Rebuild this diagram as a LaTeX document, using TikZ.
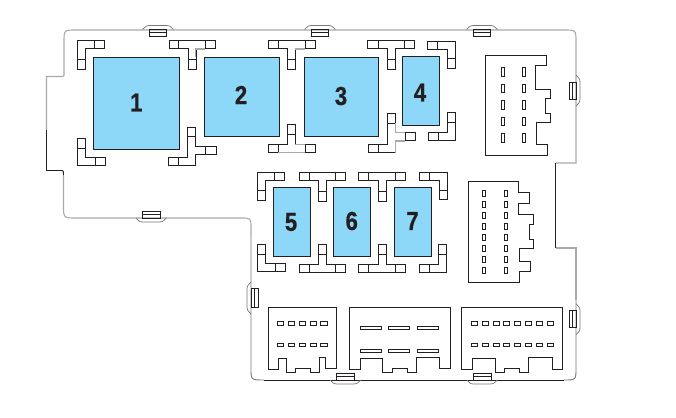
\documentclass[tikz,border=0pt]{standalone}
\usepackage{fontspec}
\setmainfont{Liberation Sans}
\newfontfamily\numfont[BoldFeatures={FakeBold=0.7}]{Liberation Sans}
\definecolor{ink}{HTML}{231F20}
\definecolor{soft}{HTML}{A9A9A9}
\definecolor{mid}{HTML}{777777}
\definecolor{fuse}{HTML}{8DD7F8}
\tikzset{
  wire/.style={draw=ink,line width=0.95pt,line join=miter},
  softline/.style={draw=soft,line width=1.1pt},
  midline/.style={draw=mid,line width=0.9pt},
  fusebox/.style={draw=ink,line width=0.95pt,fill=fuse},
  fusenum/.style={font=\numfont\bfseries\fontsize{26}{26}\selectfont,text=ink,xscale=0.85,inner sep=0pt},
  tabline/.style={draw=ink,line width=0.7pt},
  tabarc/.style={draw=mid,line width=0.7pt},
  pin/.style={draw=ink,line width=0.85pt},
  zoomA/.style={shift={(40,20)},scale=1/3},
  zoomB/.style={shift={(260,20)},scale=1/3},
  zoomC/.style={shift={(460,20)},scale=1/3},
  zoomD/.style={shift={(240,160)},scale=1/3},
  zoomE/.style={shift={(450,165)},scale=1/3},
  zoomF/.style={shift={(240,295)},scale=1/3},
  zoomG/.style={shift={(430,295)},scale=1/3},
}
\begin{document}
\begin{tikzpicture}[x=1pt,y=-1pt]
\useasboundingbox (0,0) rectangle (676,417);
\fill[white] (0,0) rectangle (676,417);
% housing outline
\draw[softline] (46.5,130) -- (46.5,76.5) -- (61,76.5) .. controls (64,76.5) .. (64,73) -- (64,42) .. controls (64,30) .. (76,30) -- (564,30) .. controls (576,30) .. (576,42) -- (576,163) -- (556,163);
\draw[wire] (555.7,163) -- (555.7,248);
\draw[softline] (555.7,248) -- (576,248) -- (576,300);
\draw[midline] (576,300) -- (576,368) .. controls (576,380) .. (564,380);
\draw[wire] (564,380) -- (264,380);
\draw[midline] (264,380) .. controls (251,380) .. (251,368) -- (251,235);
\draw[softline] (251,235) -- (251,228) .. controls (251,218) .. (241,218) -- (76,218) .. controls (63.5,218) .. (63.5,205) -- (63.5,175);
\draw[wire] (63.5,175) .. controls (63.5,170.5) .. (60,170.5) -- (46.5,170.5) -- (46.5,130);
% tabs on the top edge
\foreach \tx in {149.5,311.5,473.5}{
  \draw[tabline] (\tx,29.5) rectangle ++(17.2,7) (\tx,32.5) -- ++(17.2,0);
  \draw[tabarc] (\tx-7,29.5) .. controls (\tx-3,25.5) .. (\tx+3,25.5) -- (\tx+14,25.5) .. controls (\tx+20,25.5) .. (\tx+24,29.5);
}
% tabs on the bottom edges
\foreach \tx/\ty in {142.5/218,336.7/380,473.4/380}{
  \draw[tabline] (\tx,\ty-6.7) rectangle ++(17.5,6.7) (\tx,\ty-3.8) -- ++(17.5,0);
  \draw[tabarc] (\tx-6.5,\ty) .. controls (\tx-3,\ty+4) .. (\tx+3,\ty+4) -- (\tx+14,\ty+4) .. controls (\tx+20,\ty+4) .. (\tx+24,\ty);
}
% tabs on the right edge
\foreach \ty in {82,310.7}{
  \draw[tabline] (569.3,\ty) rectangle ++(6.7,17) (572,\ty) -- ++(0,17);
  \draw[tabarc] (576,\ty-7) .. controls (580,\ty-3) .. (580,\ty+3) -- (580,\ty+14) .. controls (580,\ty+20) .. (576,\ty+24);
}
% tab on the inner left edge
\draw[tabline] (251,288.5) rectangle (258.7,307) (254,288.5) -- (254,307);
\draw[tabarc] (251,282) .. controls (247,286) .. (247,292) -- (247,304) .. controls (247,310) .. (251,314);
% fuses
\draw[fusebox] (93.3,57.3) rectangle (179.3,149.3);
\draw[fusebox] (204.3,57.3) rectangle (279.3,136.3);
\draw[fusebox] (304.3,57.3) rectangle (378.7,136.3);
\draw[fusebox] (402.7,56.3) rectangle (439.3,125.3);
\draw[fusebox] (273.3,187.3) rectangle (310.7,256.3);
\draw[fusebox] (333.3,187.3) rectangle (370.3,256.3);
\draw[fusebox] (394.3,187.3) rectangle (431.7,256.3);
\node[fusenum] (one) at (136.3,102.5) {1};
\node[fusenum] (two) at (241,95) {2};
\node[fusenum] (three) at (341,96) {3};
\node[fusenum] (four) at (420,92.5) {4};
\node[fusenum] (five) at (291,222) {5};
\node[fusenum] (six) at (351.7,221) {6};
\node[fusenum] (seven) at (412.5,221) {7};
% clips around fuses 1 and 2
\begin{scope}[zoomA]
\draw[wire] (112,61) -- (193,61) -- (193,85) -- (136,85) -- (136,148) -- (112,148) -- cycle (163,61) -- (163,85) (112,117) -- (136,117);
\draw[wire] (388,61) -- (526,61) -- (526,85) -- (470,85) -- (470,148) -- (446,148) -- (446,85) -- (388,85) -- cycle (415,61) -- (415,85) (496,61) -- (496,85) (446,118) -- (470,118);
\draw[softline] (467,110) -- (467,87) -- (496,87);
\draw[wire] (112,355) -- (136,355) -- (136,412) -- (196,412) -- (196,436) -- (112,436) -- cycle (112,385) -- (136,385) (166,412) -- (166,436);
\draw[wire] (442,322) -- (466,322) -- (466,379) -- (529,379) -- (529,403) -- (466,403) -- (466,436) -- (385,436) -- (385,412) -- (442,412) -- cycle (442,349) -- (466,349) (496,379) -- (496,403) (415,412) -- (415,436);
\end{scope}
% clips around fuses 2, 3 and 4
\begin{scope}[zoomB]
\draw[wire] (25,61) -- (166,61) -- (166,85) -- (106,85) -- (106,148) -- (82,148) -- (82,85) -- (25,85) -- cycle (55,61) -- (55,85) (136,61) -- (136,85) (82,118) -- (106,118);
\draw[softline] (106,87) -- (136,87);
\draw[wire] (82,313) -- (106,313) -- (106,374) -- (166,374) -- (166,398) -- (25,398) -- (25,374) -- (82,374) -- cycle (82,344) -- (106,344) (55,374) -- (55,398) (136,374) -- (136,398);
\draw[softline] (106,374) -- (136,374) (55,398) -- (136,398);
\draw[wire] (322,61) -- (463,61) -- (463,85) -- (406,85) -- (406,148) -- (382,148) -- (382,85) -- (322,85) -- cycle (355,61) -- (355,85) (433,61) -- (433,85) (382,118) -- (406,118);
\draw[wire] (382,280) -- (406,280) -- (406,338) -- (466,338) -- (466,361) -- (406,361) -- (406,398) -- (325,398) -- (325,374) -- (382,374) -- cycle (382,310) -- (406,310) (436,338) -- (436,361) (355,374) -- (355,398);
\draw[softline] (406,310) -- (406,338) -- (436,338) (436,363) -- (406,363) -- (406,398);
\draw[wire] (502,64) -- (586,64) -- (586,145) -- (562,145) -- (562,88) -- (502,88) -- cycle (532,64) -- (532,88) (562,115) -- (586,115);
\draw[wire] (562,277) -- (586,277) -- (586,361) -- (505,361) -- (505,337) -- (562,337) -- cycle (562,307) -- (586,307) (535,337) -- (535,361);
\end{scope}
% clips around fuses 5, 6 and 7
\begin{scope}[zoomD]
\draw[wire] (52,38) -- (133,38) -- (133,62) -- (76,62) -- (76,121) -- (52,121) -- cycle (103,38) -- (103,62) (52,91) -- (76,91);
\draw[wire] (178,38) -- (316,38) -- (316,62) -- (259,62) -- (259,124) -- (236,124) -- (236,62) -- (178,62) -- cycle (208,38) -- (208,62) (286,38) -- (286,62) (236,94) -- (259,94);
\draw[wire] (355,38) -- (496,38) -- (496,62) -- (439,62) -- (439,124) -- (415,124) -- (415,62) -- (355,62) -- cycle (385,38) -- (385,62) (466,38) -- (466,62) (415,94) -- (439,94);
\draw[wire] (538,38) -- (622,38) -- (622,118) -- (598,118) -- (598,62) -- (538,62) -- cycle (568,38) -- (568,62) (598,91) -- (622,91);
\draw[wire] (52,253) -- (76,253) -- (76,310) -- (136,310) -- (136,334) -- (52,334) -- cycle (52,283) -- (76,283) (106,310) -- (106,334);
\draw[wire] (236,253) -- (259,253) -- (259,313) -- (316,313) -- (316,337) -- (178,337) -- (178,313) -- (236,313) -- cycle (236,283) -- (259,283) (208,313) -- (208,337) (286,313) -- (286,337);
\draw[wire] (415,253) -- (439,253) -- (439,313) -- (496,313) -- (496,337) -- (355,337) -- (355,313) -- (415,313) -- cycle (415,283) -- (439,283) (385,313) -- (385,337) (466,313) -- (466,337);
\draw[wire] (596,253) -- (620,253) -- (620,337) -- (538,337) -- (538,313) -- (596,313) -- cycle (596,283) -- (620,283) (568,313) -- (568,337);
\end{scope}
% upper right connector
\begin{scope}[zoomC]
\draw[wire] (76,106) -- (260,106) -- (260,136) -- (226,136) -- (226,208) -- (272,208) -- (272,236) -- (256,236) -- (256,280) -- (272,280) -- (272,307) -- (229,307) -- (229,373) -- (263,373) -- (263,406) -- (76,406) -- cycle;
\foreach \py/\ph in {142/27,193/25,242/26,291/25,340/28}{
  \draw[pin] (124,\py) rectangle ++(10,\ph);
  \draw[pin] (187,\py) rectangle ++(9,\ph);
}
\end{scope}
% middle right connector
\begin{scope}[zoomE]
\draw[wire] (55,49) -- (205,49) -- (205,82) -- (239,82) -- (239,115) -- (205,115) -- (205,148) -- (251,148) -- (251,178) -- (238,178) -- (238,223) -- (251,223) -- (251,250) -- (208,250) -- (208,289) -- (242,289) -- (242,319) -- (208,319) -- (208,352) -- (55,352) -- cycle;
\foreach \py in {85,118,151,184,217,250,283,316}{
  \draw[pin] (97,\py-9) rectangle (107,\py+9);
  \draw[pin] (163,\py-9) rectangle (173,\py+9);
}
\end{scope}
% bottom connectors
\begin{scope}[zoomF]
\draw[wire] (85,38) -- (290,38) -- (290,220) -- (257,220) -- (257,187) -- (238,187) -- (238,232) -- (212,232) -- (212,220) -- (166,220) -- (166,232) -- (139,232) -- (139,190) -- (115,190) -- (115,223) -- (85,223) -- cycle;
\foreach \pa/\pb in {112/130,145/163,178/197,211/230,242/263}{
  \draw[pin] (\pa,80) rectangle (\pb,91);
  \draw[pin] (\pa,145) rectangle (\pb,154);
}
\draw[wire] (328,38) -- (631,38) -- (631,220) -- (598,220) -- (598,187) -- (530,187) -- (530,232) -- (503,232) -- (503,220) -- (457,220) -- (457,232) -- (428,232) -- (428,190) -- (361,190) -- (361,223) -- (328,223) -- cycle;
\foreach \pa/\pb in {361/425,445/509,532/596}{
  \draw[pin] (\pa,94) rectangle (\pb,103);
  \draw[pin] (\pa,163) rectangle (\pb,172);
}
\end{scope}
\begin{scope}[zoomG]
\draw[wire] (94,38) -- (397,38) -- (397,223) -- (367,223) -- (367,187) -- (295,187) -- (295,232) -- (268,232) -- (268,220) -- (223,220) -- (223,232) -- (196,232) -- (196,190) -- (127,190) -- (127,223) -- (94,223) -- cycle;
\foreach \pa/\pb in {124/142,157/175,190/208,220/238,253/271,286/304,319/337,352/370}{
  \draw[pin] (\pa,80) rectangle (\pb,91);
  \draw[pin] (\pa,145) rectangle (\pb,154);
}
\end{scope}
\end{tikzpicture}
\end{document}
